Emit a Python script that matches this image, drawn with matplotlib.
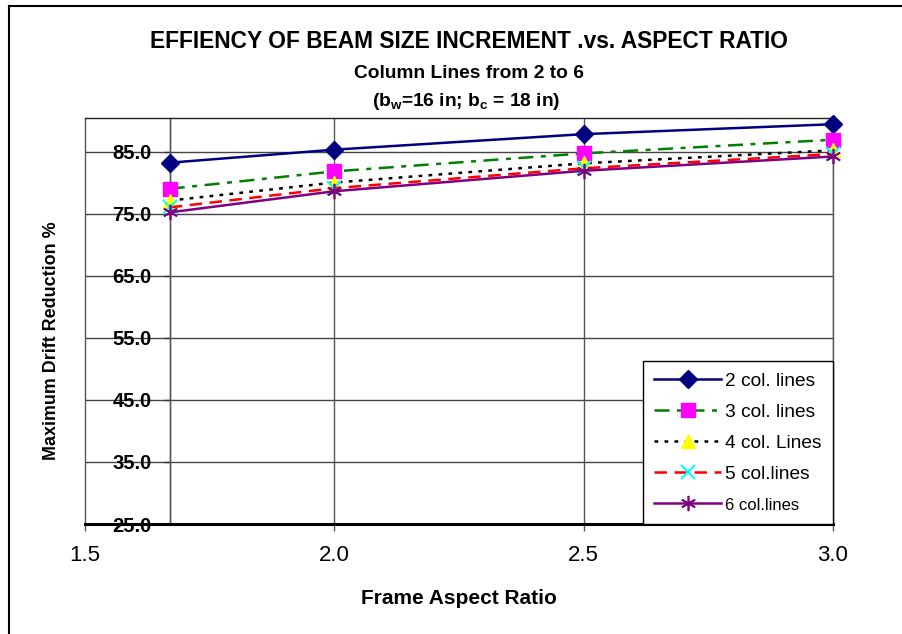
import matplotlib
matplotlib.use("Agg")
import matplotlib.pyplot as plt
from matplotlib.lines import Line2D

plt.rcParams['font.family'] = ['Liberation Sans', 'DejaVu Sans']

# ---- data ----
aspect_ratio = [1.67, 2.0, 2.5, 3.0]
col2 = [83.2, 85.3, 87.8, 89.4]
col3 = [79.0, 81.8, 84.7, 86.9]
col4 = [77.1, 80.0, 83.1, 85.2]
col5 = [76.0, 79.1, 82.3, 84.6]
col6 = [75.2, 78.6, 81.9, 84.2]
series_labels = ['2 col. lines', '3 col. lines', '4 col. Lines', '5 col.lines', '6 col.lines']
x_ticks = [1.5, 2.0, 2.5, 3.0]
y_ticks = [25, 35, 45, 55, 65, 75, 85]

W, H = 902, 634
fig = plt.figure(figsize=(W / 100, H / 100), dpi=100)
ax = fig.add_axes([85 / W, (H - 524) / H, (833 - 85) / W, (524 - 118) / H])

ax.set_xlim(1.5, 3.0)
ax.set_ylim(25, 90.4)

# spines first (set_position resets tick objects)
ax.spines['left'].set_position(('data', aspect_ratio[0]))
ax.spines['left'].set_color('#555555')
ax.spines['left'].set_linewidth(1)
ax.spines['top'].set_color('#222222')
ax.spines['top'].set_linewidth(1)
ax.spines['right'].set_color('#555555')
ax.spines['right'].set_linewidth(1)
ax.spines['bottom'].set_color('black')
ax.spines['bottom'].set_linewidth(2.2)
ax.plot([0, 0], [0, 1], transform=ax.transAxes, color='#555555', lw=1, clip_on=False)

styles = [
    dict(color='#000080', ls='-', lw=1.8, marker='D', ms=9, mfc='#000080', mec='#000080'),
    dict(color='#008000', ls=(0, (6, 3, 2, 3)), lw=1.8, marker='s', ms=9.5, mfc='#FF00FF', mec='#FF00FF'),
    dict(color='black', ls=(0, (1.5, 2.5)), lw=1.8, marker='^', ms=10, mfc='#FFFF00', mec='#FFFF00'),
    dict(color='#FF0000', ls=(0, (5, 3)), lw=1.8, marker='x', ms=10, mfc='#00FFFF', mec='#00FFFF', mew=1.5),
    dict(color='#800080', ls='-', lw=1.8, marker=(6, 2, 0), ms=11, mfc='#800080', mec='#800080', mew=1.2),
]
series = [col2, col3, col4, col5, col6]
handles = []
for vals, st, lab in zip(series, styles, series_labels):
    h, = ax.plot(aspect_ratio, vals, label=lab, zorder=5, clip_on=False, **st)
    handles.append(h)

# grid
for v in aspect_ratio:
    ax.axvline(v, color='#555555', lw=1, zorder=1)
ax.set_yticks(y_ticks)
ax.set_yticklabels([f'{v:.1f}' for v in y_ticks], fontsize=14.5, fontweight='bold')
ax.yaxis.grid(True, color='#444444', lw=1, zorder=1)
ax.set_axisbelow(True)

ax.set_xticks(x_ticks)
ax.set_xticklabels([f'{v:.1f}' for v in x_ticks], fontsize=16)

ax.tick_params(axis='y', direction='out', length=4, width=1, pad=9, color='#333333')
ax.tick_params(axis='x', direction='out', length=5, width=1, pad=10, color='#555555')

fig.text(459 / W, 1 - 598 / H, 'Frame Aspect Ratio', fontsize=15, fontweight='bold',
         ha='center', va='center')
fig.text(52 / W, 1 - 341 / H, 'Maximum Drift Reduction %', rotation=90,
         fontsize=12.9, fontweight='bold', ha='center', va='center')

# titles
fig.text(469 / W, 1 - 42 / H, 'EFFIENCY OF BEAM SIZE INCREMENT .vs. ASPECT RATIO',
         fontsize=16.4, fontweight='bold', ha='center', va='center')
fig.text(469 / W, 1 - 73 / H, 'Column Lines from 2 to 6',
         fontsize=13.8, fontweight='bold', ha='center', va='center')
fig.text(466 / W, 1 - 101 / H, r'(b$\mathregular{_w}$=16 in; b$\mathregular{_c}$ = 18 in)',
         fontsize=13.8, fontweight='bold', ha='center', va='center')

# legend
leg = ax.legend(handles=handles, loc='lower right', bbox_to_anchor=(1.0, 0.0),
                borderaxespad=0, fontsize=13.8, frameon=True, fancybox=False,
                edgecolor='black', framealpha=1, handlelength=3.5, handletextpad=0.2,
                labelspacing=0.7, numpoints=1, borderpad=0.6)
leg.get_frame().set_linewidth(1)
leg.set_zorder(10)
texts = leg.get_texts()
texts[-1].set_fontsize(12)

# figure border
fig.add_artist(Line2D([9 / W, 9 / W], [0, 1 - 6 / H], transform=fig.transFigure, color='black', lw=1.5))
fig.add_artist(Line2D([9 / W, 1], [1 - 6 / H, 1 - 6 / H], transform=fig.transFigure, color='black', lw=1.5))

fig.savefig('out.png', dpi=100)
